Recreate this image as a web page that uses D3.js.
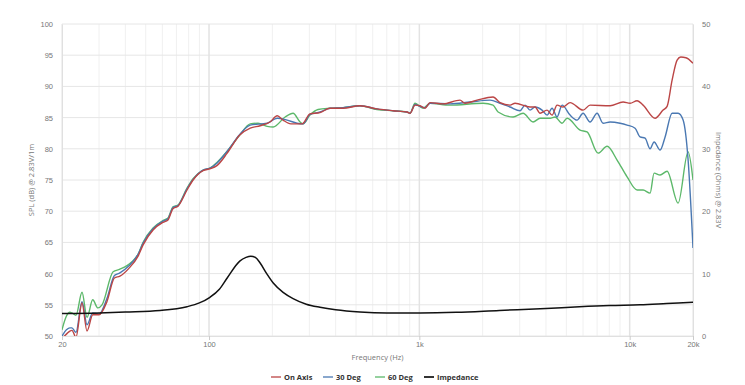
<!DOCTYPE html>
<html>
<head>
<meta charset="utf-8">
<script src="https://cdn.jsdelivr.net/npm/d3@7"></script>
<style>
  body { margin: 0; background: #fff; }
  svg { display: block; font-family: "Open Sans", "DejaVu Sans", sans-serif; }
</style>
</head>
<body>
<div id="chart"></div>
<script>
// frequency response data, [Hz, dB]
const onAxis = [
    [20, 49.6], [21, 50.3], [21.8, 50.8], [22.3, 50.9], [23.3, 49.8], [24.9, 55.3], [26.3, 50.8],
    [28, 53.4], [30, 53.4], [32.7, 55.5], [35.5, 59.3], [37.7, 59.6], [41.5, 60.8], [46, 62.8],
    [48.6, 64.6], [54.2, 67], [60.4, 68.2], [63.8, 68.6], [67.4, 70.4], [71.2, 70.8], [78.6, 73.4],
    [84, 75], [93.7, 76.5], [101, 76.8], [109, 77.3], [122, 79.3], [140, 82.2], [157, 83.3],
    [175, 83.7], [195, 84.3], [211, 85.3], [225, 84.6], [245, 84.0], [277, 84.0], [302, 85.6],
    [337, 85.8], [376, 86.5], [434, 86.5], [522, 86.9], [629, 86.4], [750, 86.1], [874, 85.9],
    [903, 85.7], [954, 87.0], [1008, 86.9], [1065, 86.5], [1124, 87.4], [1296, 87.2], [1561, 87.8],
    [1649, 87.3], [1881, 87.8], [2241, 88.3], [2420, 87.4], [2700, 87.0], [2851, 87.3], [3361, 86.7],
    [3550, 86.7], [3749, 85.7], [4049, 86.2], [4276, 85.4], [4516, 87.0], [4824, 86.7], [5207, 87.4],
    [6004, 86.2], [6481, 87.0], [8070, 86.9], [9305, 87.5], [10044, 87.3], [10845, 87.7],
    [11580, 87.0], [13206, 84.9], [14417, 86.2], [15062, 86.8], [15911, 91], [16809, 94.2],
    [17500, 94.7], [18500, 94.6], [20000, 93.7]
];

const deg30 = [
    [20, 50.0], [21, 51.0], [21.8, 51.3], [22.3, 51.3], [23.3, 50.6], [24.9, 55.5], [26.3, 51.8],
    [28, 53.7], [30, 53.5], [32.7, 56.0], [35.5, 59.7], [37.7, 60.1], [41.5, 61.2], [46, 63.1],
    [48.6, 64.9], [54.2, 67.2], [60.4, 68.4], [63.8, 68.8], [67.4, 70.6], [71.2, 70.9], [78.6, 73.6],
    [84, 75.1], [93.7, 76.6], [101, 76.9], [109, 77.7], [122, 79.6], [140, 82.3], [157, 83.8],
    [189, 84.1], [211, 84.9], [235, 84.6], [262, 84.1], [280, 84.0], [302, 85.5], [337, 85.9],
    [376, 86.5], [434, 86.6], [522, 86.9], [629, 86.4], [750, 86.1], [874, 85.9], [903, 85.7],
    [954, 87.1], [1008, 86.8], [1065, 86.6], [1124, 87.3], [1400, 87.2], [1742, 87.5], [2168, 87.8],
    [2420, 87.3], [2700, 86.7], [3013, 86.1], [3181, 87.0], [3361, 86.2], [3550, 86.7], [3832, 86.2],
    [4049, 85.4], [4276, 86.5], [4516, 85.1], [4771, 87.0], [5207, 85.4], [5622, 84.6], [6004, 85.7],
    [6481, 84.3], [6998, 85.7], [7475, 84.1], [8070, 84.3], [9004, 84.1], [9720, 83.8], [10610, 83.3],
    [11206, 81.9], [11836, 81.7], [12503, 80.0], [13062, 81.1], [13951, 79.8], [14736, 81.9],
    [15911, 85.7], [16992, 85.7], [17948, 84.6], [18957, 78.2], [20000, 64.1]
];

const deg60 = [
    [20, 51.0], [21, 53.2], [21.8, 53.8], [22.3, 53.7], [23.3, 53.3], [24.9, 57.0], [26.3, 53.0],
    [28, 55.8], [29.6, 54.5], [31, 55.0], [35, 60.3], [37.7, 60.7], [43, 61.9], [46, 63.1],
    [48.6, 65.0], [54.2, 67.3], [60.4, 68.5], [63.8, 68.9], [67.4, 70.7], [71.2, 71.0], [78.6, 73.7],
    [84, 75.2], [93.7, 76.6], [101, 76.9], [109, 77.8], [122, 79.6], [140, 82.2], [157, 84.0],
    [171, 84.1], [189, 83.6], [202, 83.5], [230, 85.1], [251, 85.7], [271, 84.3], [280, 84.0],
    [302, 85.4], [330, 86.3], [376, 86.5], [434, 86.6], [522, 86.9], [629, 86.3], [750, 86.1],
    [874, 85.9], [903, 85.7], [954, 87.3], [1041, 86.5], [1124, 87.3], [1400, 87.0], [2009, 87.3],
    [2241, 87.0], [2368, 85.9], [2790, 85.1], [3112, 85.7], [3472, 84.3], [3749, 84.9], [4183, 84.9],
    [4418, 85.1], [4771, 84.1], [5040, 84.9], [5809, 83.0], [6272, 82.7], [7076, 79.3], [7810, 80.4],
    [8712, 78.2], [9720, 75.5], [10845, 73.4], [11580, 73.4], [12503, 72.9], [13062, 76.1],
    [13951, 75.8], [15062, 76.4], [16992, 71.3], [18957, 79.5], [20000, 75.0]
];

// impedance, [Hz, Ohms]
const impedance = [
    [20, 3.6], [30, 3.7], [40, 3.85], [58.5, 4.1], [78.6, 4.7], [90, 5.3], [101, 6.2], [112, 7.5],
    [122, 9.3], [140, 12.0], [150, 12.6], [158, 12.8], [166, 12.6], [175, 11.7], [188, 10.0],
    [202, 8.5], [225, 7.0], [251, 6.0], [290, 5.1], [337, 4.6], [400, 4.2], [522, 3.85], [700, 3.7],
    [1008, 3.7], [1500, 3.8], [2400, 4.1], [4000, 4.4], [5765, 4.7], [8000, 4.9], [11200, 5.0],
    [15000, 5.2], [20000, 5.4]
];

const seriesNames = ["On Axis", "30 Deg", "60 Deg", "Impedance"];
const seriesColors = ["#bb4545", "#4a78b2", "#5cb86a", "#111111"];

const splTicks = [50, 55, 60, 65, 70, 75, 80, 85, 90, 95, 100];
const ohmTicks = [0, 10, 20, 30, 40, 50];
const freqTicks = [20, 100, 1000, 10000, 20000];
const freqTickLabels = ["20", "100", "1k", "10k", "20k"];

const width = 745, height = 385;
const margin = { top: 24, right: 52, bottom: 49, left: 62 };

const svg = d3.select("#chart").append("svg")
    .attr("width", width)
    .attr("height", height);

const x = d3.scaleLog()
    .domain([20, 20000])
    .range([margin.left, width - margin.right]);

const y = d3.scaleLinear()
    .domain([50, 100])
    .range([height - margin.bottom, margin.top]);

const yOhm = d3.scaleLinear()
    .domain([0, 50])
    .range([height - margin.bottom, margin.top]);

// grid
const grid = svg.append("g").attr("class", "grid");
const minorFreqs = [];
[10, 100, 1000].forEach(dec => {
    for (let k = 2; k <= 9; k++) {
        const f = dec * k;
        if (f > 20 && f < 20000) minorFreqs.push(f);
    }
});
grid.selectAll("line.minor")
    .data(minorFreqs)
    .join("line")
    .attr("x1", d => x(d)).attr("x2", d => x(d))
    .attr("y1", y(50)).attr("y2", y(100))
    .attr("stroke", "#f0f0f0")
    .attr("stroke-width", 1);

grid.selectAll("line.h")
    .data(splTicks)
    .join("line")
    .attr("x1", x(20)).attr("x2", x(20000))
    .attr("y1", d => y(d)).attr("y2", d => y(d))
    .attr("stroke", "#e6e6e6")
    .attr("stroke-width", 1);

grid.selectAll("line.major")
    .data([20, 100, 1000, 10000, 20000])
    .join("line")
    .attr("x1", d => x(d)).attr("x2", d => x(d))
    .attr("y1", y(50)).attr("y2", y(100))
    .attr("stroke", "#e3e3e3")
    .attr("stroke-width", d => (d === 100 || d === 1000 || d === 10000) ? 1.5 : 1);

// axes
const axisLeft = svg.append("g")
    .attr("transform", `translate(${margin.left},0)`)
    .call(d3.axisLeft(y).tickValues(splTicks).tickSize(0).tickPadding(9));

const axisRight = svg.append("g")
    .attr("transform", `translate(${width - margin.right},0)`)
    .call(d3.axisRight(yOhm).tickValues(ohmTicks).tickSize(0).tickPadding(9));

const axisBottom = svg.append("g")
    .attr("transform", `translate(0,${height - margin.bottom})`)
    .call(d3.axisBottom(x).tickValues(freqTicks)
        .tickFormat((d, i) => freqTickLabels[i]).tickSize(4).tickPadding(2));

[axisLeft, axisRight, axisBottom].forEach(a => {
    a.select(".domain").attr("stroke", "#e0e0e0");
    a.selectAll("text").attr("fill", "#777").style("font-size", "7.5px");
});
axisBottom.selectAll(".tick line").attr("stroke", "#ccc");

// axis titles
svg.append("text")
    .attr("transform", `translate(34,${(y(50) + y(100)) / 2}) rotate(-90)`)
    .attr("text-anchor", "middle")
    .attr("fill", "#777")
    .style("font-size", "7.5px")
    .text("SPL (dB) @ 2.83V/1m");

svg.append("text")
    .attr("transform", `translate(716,${(y(50) + y(100)) / 2}) rotate(90)`)
    .attr("text-anchor", "middle")
    .attr("fill", "#777")
    .style("font-size", "7.5px")
    .text("Impedance (Ohms) @ 2.83V");

svg.append("text")
    .attr("x", (x(20) + x(20000)) / 2)
    .attr("y", 360)
    .attr("text-anchor", "middle")
    .attr("fill", "#777")
    .style("font-size", "7.5px")
    .text("Frequency (Hz)");

// series
svg.append("clipPath").attr("id", "plot-clip")
    .append("rect")
    .attr("x", x(20)).attr("y", y(100))
    .attr("width", x(20000) - x(20))
    .attr("height", y(50) - y(100));

const splLine = d3.line()
    .x(d => x(d[0]))
    .y(d => y(d[1]))
    .curve(d3.curveMonotoneX);

const ohmLine = d3.line()
    .x(d => x(d[0]))
    .y(d => yOhm(d[1]))
    .curve(d3.curveMonotoneX);

const plot = svg.append("g").attr("clip-path", "url(#plot-clip)");
[deg60, deg30, onAxis].forEach((data, i) => {
    const idx = 2 - i;
    plot.append("path")
        .attr("d", splLine(data))
        .attr("fill", "none")
        .attr("stroke", seriesColors[idx])
        .attr("stroke-width", 1.4);
});
plot.append("path")
    .attr("d", ohmLine(impedance))
    .attr("fill", "none")
    .attr("stroke", seriesColors[3])
    .attr("stroke-width", 1.5);

// legend
const legendX = [271, 323, 375, 424];
const legend = svg.append("g").attr("class", "legend");
seriesNames.forEach((name, i) => {
    const item = legend.append("g").attr("transform", `translate(${legendX[i]},377)`);
    item.append("line")
        .attr("x1", 0).attr("x2", 10)
        .attr("stroke", seriesColors[i])
        .attr("stroke-opacity", i === 3 ? 0.85 : 0.65)
        .attr("stroke-width", 2);
    item.append("text")
        .attr("x", 13)
        .attr("y", 3)
        .attr("fill", "#333")
        .style("font-size", "7.5px")
        .style("font-weight", "bold")
        .text(name);
});
</script>
</body>
</html>
